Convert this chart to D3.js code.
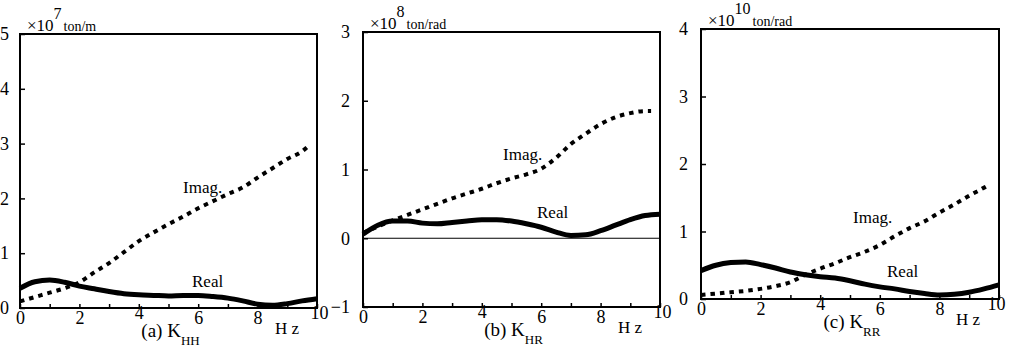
<!DOCTYPE html>
<html>
<head>
<meta charset="utf-8">
<script src="https://cdn.jsdelivr.net/npm/d3@7"></script>
<style>
  body { margin: 0; background: #fff; }
  svg { display: block; }
  svg text { font-family: "Liberation Serif", "DejaVu Serif", serif; fill: #000; }
</style>
</head>
<body>
<div id="chart"></div>
<script>
"use strict";

// frequency grids (Hz)
var freqReal = [0, 0.5, 1, 1.5, 2, 2.5, 3, 3.5, 4, 4.5, 5, 5.5, 6, 6.5, 7, 7.5, 8, 8.5, 9, 9.5, 10];
var freqImag = [0, 0.5, 1, 1.5, 2, 2.5, 3, 3.5, 4, 4.5, 5, 5.5, 6, 6.5, 7, 7.5, 8, 8.5, 9, 9.5, 9.7];

// (a) K_HH  x10^7 ton/m
var realHH = [0.36, 0.48, 0.51, 0.47, 0.40, 0.35, 0.30, 0.26, 0.24, 0.23, 0.22, 0.23, 0.23, 0.21, 0.18, 0.13, 0.07, 0.05, 0.08, 0.13, 0.17];
var imagHH = [0.12, 0.20, 0.28, 0.36, 0.47, 0.65, 0.82, 1.02, 1.22, 1.38, 1.53, 1.67, 1.82, 1.95, 2.08, 2.20, 2.38, 2.55, 2.72, 2.86, 2.95];

// (b) K_HR  x10^8 ton/rad
var realHR = [0.06, 0.19, 0.25, 0.25, 0.22, 0.21, 0.23, 0.25, 0.27, 0.27, 0.25, 0.21, 0.16, 0.09, 0.04, 0.05, 0.11, 0.19, 0.27, 0.33, 0.35];
var imagHR = [0.08, 0.17, 0.26, 0.34, 0.42, 0.50, 0.58, 0.65, 0.72, 0.80, 0.87, 0.93, 1.01, 1.17, 1.37, 1.52, 1.66, 1.76, 1.82, 1.85, 1.85];

// (c) K_RR  x10^10 ton/rad
var realRR = [0.42, 0.50, 0.54, 0.55, 0.51, 0.46, 0.40, 0.36, 0.33, 0.31, 0.27, 0.22, 0.18, 0.15, 0.11, 0.08, 0.06, 0.07, 0.10, 0.15, 0.21];
var imagRR = [0.06, 0.08, 0.10, 0.12, 0.15, 0.19, 0.25, 0.36, 0.45, 0.53, 0.62, 0.70, 0.80, 0.93, 1.05, 1.15, 1.28, 1.40, 1.53, 1.65, 1.70];

var xTicks = [0, 2, 4, 6, 8, 10];

var panels = [
  { x0: 20, x1: 317, y0: 34, y1: 308, dom: [0, 5], real: realHH, imag: imagHH,
    exp: "7", unit: "ton/m", letter: "(a) K", sub: "HH", tenShift: 2,
    realLab: [192, 287], imagLab: [183, 193], zeroLine: false },
  { x0: 363, x1: 660, y0: 32, y1: 307, dom: [-1, 3], real: realHR, imag: imagHR,
    exp: "8", unit: "ton/rad", letter: "(b) K", sub: "HR", tenShift: 2,
    realLab: [537, 218], imagLab: [503, 160], zeroLine: true },
  { x0: 701, x1: 999, y0: 29, y1: 299, dom: [0, 4], real: realRR, imag: imagRR,
    exp: "10", unit: "ton/rad", letter: "(c) K", sub: "RR", tenShift: -3,
    realLab: [887, 277], imagLab: [853, 223], zeroLine: false }
];

var svg = d3.select("#chart").append("svg").attr("width", 1010).attr("height", 353);

panels.forEach(function (p) {
  var x = d3.scaleLinear().domain([0, 10]).range([p.x0, p.x1]);
  var y = d3.scaleLinear().domain(p.dom).range([p.y1, p.y0]);
  var g = svg.append("g");

  // minor ticks on bottom (every Hz), inward
  g.append("g").attr("transform", "translate(0," + p.y1 + ")")
    .call(d3.axisBottom(x).ticks(10).tickSize(-4).tickFormat(""))
    .call(function (s) { s.select(".domain").remove(); s.selectAll("line").attr("stroke-width", 1.5); });

  // x labels
  g.append("g").attr("transform", "translate(0," + p.y1 + ")")
    .call(d3.axisBottom(x).tickValues(xTicks).tickSize(0).tickPadding(3).tickFormat(d3.format("d")))
    .call(function (s) {
      s.attr("font-family", null).attr("font-size", null);
      s.select(".domain").remove();
      s.selectAll("text").attr("font-size", 18)
        .attr("dy", function (d) { return (d === 4 || d === 10) ? "0.45em" : "0.71em"; })
        .attr("dx", function (d) { return d === 10 ? p.tenShift : 0; });
    });

  // y ticks inward + labels
  var yt = d3.range(p.dom[0], p.dom[1] + 1);
  g.append("g").attr("transform", "translate(" + p.x0 + ",0)")
    .call(d3.axisLeft(y).tickValues(yt).tickSize(-5).tickPadding(p.x0 === 20 ? 11 : 13).tickFormat(d3.format("d")))
    .call(function (s) {
      s.attr("font-family", null).attr("font-size", null);
      s.select(".domain").remove();
      s.selectAll("line").attr("stroke-width", 1.5);
      s.selectAll("text").attr("font-size", 18);
    });

  // frame
  g.append("rect").attr("x", p.x0).attr("y", p.y0).attr("width", p.x1 - p.x0).attr("height", p.y1 - p.y0)
    .attr("fill", "none").attr("stroke", "#000").attr("stroke-width", 2);

  if (p.zeroLine) {
    g.append("line").attr("x1", p.x0).attr("x2", p.x1).attr("y1", y(0)).attr("y2", y(0))
      .attr("stroke", "#000").attr("stroke-width", 1.2);
  }

  var line = d3.line().curve(d3.curveMonotoneX)
    .x(function (d) { return x(d[0]); }).y(function (d) { return y(d[1]); });

  g.append("path").datum(d3.zip(freqImag, p.imag)).attr("d", line)
    .attr("fill", "none").attr("stroke", "#000").attr("stroke-width", 4)
    .attr("stroke-dasharray", "4.5,5");

  g.append("path").datum(d3.zip(freqReal, p.real)).attr("d", line)
    .attr("fill", "none").attr("stroke", "#000").attr("stroke-width", 5)
    .attr("stroke-linejoin", "round");

  // series labels
  g.append("text").attr("x", p.realLab[0]).attr("y", p.realLab[1]).attr("font-size", 17).text("Real");
  g.append("text").attr("x", p.imagLab[0]).attr("y", p.imagLab[1]).attr("font-size", 17).text("Imag.");

  // scale factor label
  var sc = g.append("text").attr("x", p.x0 + 7).attr("y", p.y0 - 3).attr("font-size", 17);
  sc.append("tspan").text("\u00d710");
  sc.append("tspan").attr("dy", -12).attr("font-size", 16).text(p.exp);
  sc.append("tspan").attr("dy", 12).attr("font-size", 14).attr("dx", 2).text(p.unit);

  // Hz
  g.append("text").attr("x", p.x0 + 255).attr("y", p.y1 + 26).attr("font-size", 17).text("H z");

  // caption
  var cap = g.append("text").attr("x", (p.x0 + p.x1) / 2 + 2).attr("y", p.y1 + 29)
    .attr("text-anchor", "middle").attr("font-size", 19);
  cap.append("tspan").text(p.letter);
  cap.append("tspan").attr("dy", 8).attr("font-size", 13).text(p.sub);
});
</script>
</body>
</html>
